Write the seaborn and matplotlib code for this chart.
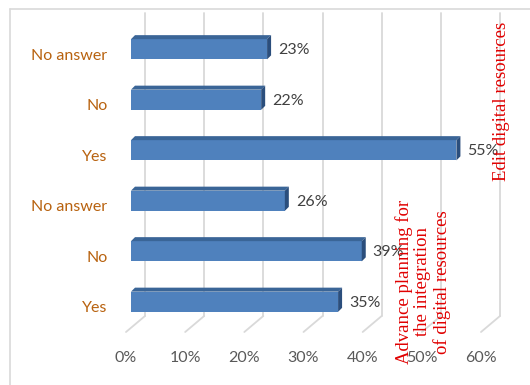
import numpy as np
import matplotlib
matplotlib.use("Agg")
import matplotlib.pyplot as plt
import seaborn as sns
from matplotlib.lines import Line2D
from matplotlib.patches import Polygon
from matplotlib.transforms import IdentityTransform, ScaledTranslation

# data (top to bottom)
labels = ["No answer", "No", "Yes", "No answer", "No", "Yes"]
values = [23, 22, 55, 26, 39, 35]
rows = list(range(len(values)))
x_ticks = [0, 10, 20, 30, 40, 50, 60]
group_top = "Edit digital resources"
group_bottom = "Advance planning for\nthe integration\nof digital resources"

sns.set_style("white")
plt.rcParams["font.family"] = ["Lato", "DejaVu Sans"]

W, H, DPI = 530, 385, 100
fig = plt.figure(figsize=(W / DPI, H / DPI), dpi=DPI)
ax = fig.add_axes([126 / W, 53 / H, 355 / W, 303 / H])

FRONT = "#4f81bd"
TOP = "#3a6597"
SIDE = "#2b4e7c"

sns.barplot(x=values, y=rows, orient="h", width=0.4, color=FRONT,
            saturation=1, ax=ax, zorder=3)
ax.set_xlim(0, 60)
ax.set_ylim(5.5, -0.5)

# 3d look: back wall depth and bar depth, in pixels
wall_dx, wall_dy = 19, 16
bar_off = (5, 5)
bar_d = 4

def px(x, y):
    return ax.transData.transform((x, y))

# back wall gridlines + floor diagonals
for t in x_ticks:
    xb, yb = px(t, 5.5)
    _, yt = px(t, -0.5)
    ax.add_line(Line2D([xb + wall_dx, xb + wall_dx], [yb + wall_dy, yt + wall_dy],
                       transform=IdentityTransform(), color="#d9d9d9", lw=1.3,
                       clip_on=False, zorder=1))
    ax.add_line(Line2D([xb, xb + wall_dx], [yb, yb + wall_dy],
                       transform=IdentityTransform(), color="#d9d9d9", lw=1.3,
                       clip_on=False, zorder=1))

# shift bar fronts and add top / side faces
shift = ax.transData + ScaledTranslation(bar_off[0] / DPI, bar_off[1] / DPI, fig.dpi_scale_trans)
for p in ax.patches:
    p.set_transform(shift)
    p.set_edgecolor("none")
    x0, y0 = p.get_x(), p.get_y()
    x1, y1 = x0 + p.get_width(), y0 + p.get_height()
    (ax0, ayt), (ax1, ayb) = px(x0, y0), px(x1, y1)
    ax0 += bar_off[0]; ax1 += bar_off[0]
    ayt += bar_off[1]; ayb += bar_off[1]
    top = Polygon([(ax0, ayt), (ax1, ayt), (ax1 + bar_d, ayt + bar_d), (ax0 + bar_d, ayt + bar_d)],
                  closed=True, transform=IdentityTransform(), facecolor=TOP,
                  edgecolor="none", clip_on=False, zorder=3)
    side = Polygon([(ax1, ayt), (ax1 + bar_d, ayt + bar_d), (ax1 + bar_d, ayb + bar_d), (ax1, ayb)],
                   closed=True, transform=IdentityTransform(), facecolor=SIDE,
                   edgecolor="none", clip_on=False, zorder=3)
    ax.add_patch(top)
    ax.add_patch(side)

# value labels
for r, v in zip(rows, values):
    ax.annotate(f"{v}%", xy=(v, r), xytext=(16, 4), textcoords="offset pixels",
                va="center", ha="left", fontsize=11.5, color="#404040", zorder=5)

ax.set_xticks(x_ticks)
ax.set_xticklabels([f"{t}%" for t in x_ticks], fontsize=11.5, color="#595959")
ax.set_yticks(rows)
ax.set_yticklabels(labels, fontsize=11.5, color="#b8620f")
ax.tick_params(axis="x", length=0, pad=14)
ax.tick_params(axis="y", length=0, pad=13.5)
ax.set_xlabel("")
ax.set_ylabel("")
sns.despine(ax=ax, left=True, bottom=True)
ax.patch.set_visible(False)

# group annotations (red, rotated)
fig.text(502 / W, 1 - 101 / H, group_top, rotation=90, ha="center", va="center",
         fontsize=13.5, color="#e00000", family="Liberation Serif")
fig.text(423 / W, 1 - 282 / H, group_bottom, rotation=90, ha="center", va="center",
         multialignment="center", linespacing=1.1, fontsize=13.5, color="#e00000",
         family="Liberation Serif", zorder=6)

# chart frame
fig.add_artist(Line2D([10 / W, 1], [1 - 9 / H, 1 - 9 / H], transform=fig.transFigure,
                      color="#d9d9d9", lw=1.2))
fig.add_artist(Line2D([10 / W, 10 / W], [0, 1 - 9 / H], transform=fig.transFigure,
                      color="#d9d9d9", lw=1.2))

fig.savefig("out.png", dpi=DPI)
